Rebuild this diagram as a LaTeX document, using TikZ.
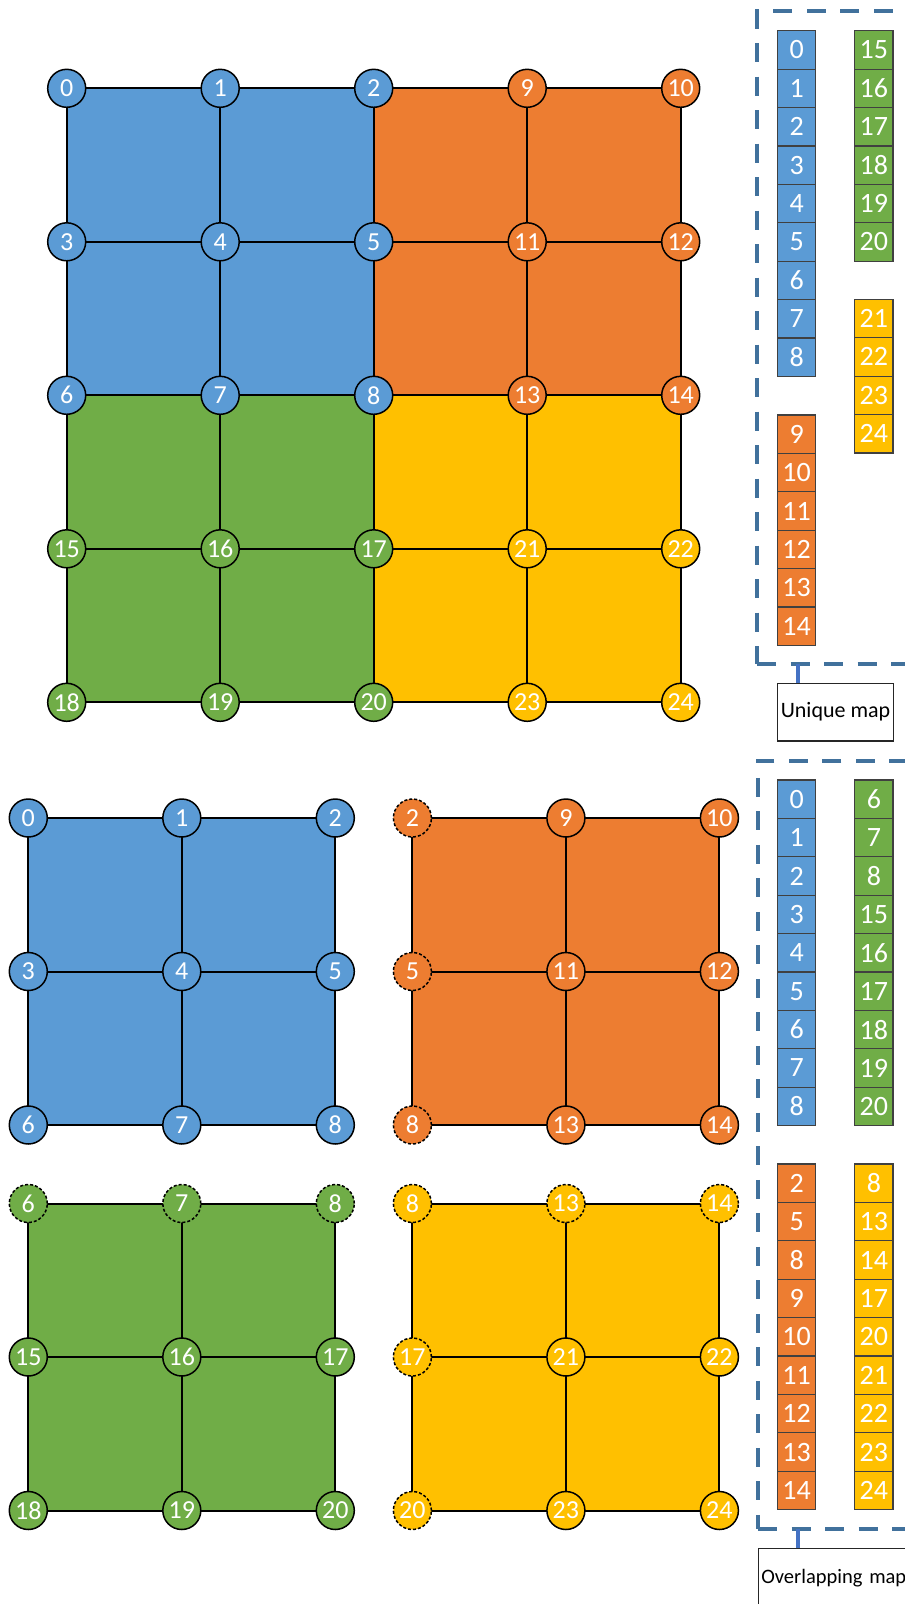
\documentclass[tikz,border=0pt]{standalone}
\usepackage{fontspec}
\setmainfont{Carlito}
\usetikzlibrary{backgrounds}
\definecolor{cblue}{HTML}{5B9BD5}
\definecolor{corange}{HTML}{ED7D31}
\definecolor{cgreen}{HTML}{70AD47}
\definecolor{cyellow}{HTML}{FFC000}
\definecolor{dboxcol}{HTML}{41719C}
\definecolor{conncol}{HTML}{4472C4}
\definecolor{cellline}{HTML}{404040}
\tikzset{
  vtx/.style={circle, draw=black, line width=1.5pt, minimum size=38pt, inner sep=0pt, outer sep=0pt, text=white, font=\fontsize{26}{26}\selectfont},
  gvtx/.style={vtx, dash pattern=on 3pt off 2pt},
  gridedge/.style={line width=2pt, black},
  cell/.style={rectangle, draw=cellline, line width=1.2pt, minimum width=38.3pt, minimum height=38.4pt, inner sep=0pt, outer sep=0pt, anchor=north west, text=white, font=\fontsize{28}{28}\selectfont},
  dbox/.style={rectangle, draw=dboxcol, line width=4pt, dash pattern=on 19pt off 14.5pt, inner sep=0pt, outer sep=0pt, anchor=north west},
  lbox/.style={rectangle, draw=black!85, line width=1.3pt, fill=white, inner sep=0pt, outer sep=0pt, anchor=north west, font=\fontsize{22}{22}\selectfont},
  conn/.style={line width=4pt, conncol}
}
\begin{document}
\begin{tikzpicture}[x=1pt,y=-1pt]
\clip (0,0) rectangle (905,1604);
% ---------- top grid ----------
\foreach \lab/\c/\r/\col in {0/0/0/cblue,1/1/0/cblue,2/2/0/cblue,9/3/0/corange,10/4/0/corange,
  3/0/1/cblue,4/1/1/cblue,5/2/1/cblue,11/3/1/corange,12/4/1/corange,
  6/0/2/cblue,7/1/2/cblue,8/2/2/cblue,13/3/2/corange,14/4/2/corange,
  15/0/3/cgreen,16/1/3/cgreen,17/2/3/cgreen,21/3/3/cyellow,22/4/3/cyellow,
  18/0/4/cgreen,19/1/4/cgreen,20/2/4/cgreen,23/3/4/cyellow,24/4/4/cyellow}
  \node[vtx, fill=\col] (t\lab) at ({66.7+153.5*\c},{88.3+153.5*\r}) {\lab};
\begin{pgfonlayer}{background}
\fill[cblue] (t0.center) rectangle (t8.center);
\fill[corange] (t2.center) rectangle (t14.center);
\fill[cgreen] (t6.center) rectangle (t20.center);
\fill[cyellow] (t8.center) rectangle (t24.center);
\foreach \a/\b in {0/1,1/2,2/9,9/10,3/4,4/5,5/11,11/12,6/7,7/8,8/13,13/14,15/16,16/17,17/21,21/22,18/19,19/20,20/23,23/24,
  0/3,3/6,6/15,15/18,1/4,4/7,7/16,16/19,2/5,5/8,8/17,17/20,9/11,11/13,13/21,21/23,10/12,12/14,14/22,22/24}
  \draw[gridedge] (t\a.center) -- (t\b.center);
\end{pgfonlayer}
% ---------- bottom grids ----------
% blue
\foreach \lab/\c/\r in {0/0/0,1/1/0,2/2/0,3/0/1,4/1/1,5/2/1,6/0/2,7/1/2,8/2/2}
  \node[vtx, fill=cblue] (bb\lab) at ({28.3+153.5*\c},{818+153.5*\r}) {\lab};
% orange
\foreach \lab/\c/\r/\st in {2/0/0/gvtx,9/1/0/vtx,10/2/0/vtx,5/0/1/gvtx,11/1/1/vtx,12/2/1/vtx,8/0/2/gvtx,13/1/2/vtx,14/2/2/vtx}
  \node[\st, fill=corange] (bo\lab) at ({412.4+153.5*\c},{818+153.5*\r}) {\lab};
% green
\foreach \lab/\c/\r/\st in {6/0/0/gvtx,7/1/0/gvtx,8/2/0/gvtx,15/0/1/vtx,16/1/1/vtx,17/2/1/vtx,18/0/2/vtx,19/1/2/vtx,20/2/2/vtx}
  \node[\st, fill=cgreen] (bg\lab) at ({28.3+153.5*\c},{1203.5+153.5*\r}) {\lab};
% yellow
\foreach \lab/\c/\r/\st in {8/0/0/gvtx,13/1/0/gvtx,14/2/0/gvtx,17/0/1/gvtx,21/1/1/vtx,22/2/1/vtx,20/0/2/gvtx,23/1/2/vtx,24/2/2/vtx}
  \node[\st, fill=cyellow] (by\lab) at ({412.4+153.5*\c},{1203.5+153.5*\r}) {\lab};
\begin{pgfonlayer}{background}
\fill[cblue] (bb0.center) rectangle (bb8.center);
\fill[corange] (bo2.center) rectangle (bo14.center);
\fill[cgreen] (bg6.center) rectangle (bg20.center);
\fill[cyellow] (by8.center) rectangle (by24.center);
\foreach \a/\b in {0/1,1/2,3/4,4/5,6/7,7/8,0/3,3/6,1/4,4/7,2/5,5/8}
  \draw[gridedge] (bb\a.center) -- (bb\b.center);
\foreach \a/\b in {2/9,9/10,5/11,11/12,8/13,13/14,2/5,5/8,9/11,11/13,10/12,12/14}
  \draw[gridedge] (bo\a.center) -- (bo\b.center);
\foreach \a/\b in {6/7,7/8,15/16,16/17,18/19,19/20,6/15,15/18,7/16,16/19,8/17,17/20}
  \draw[gridedge] (bg\a.center) -- (bg\b.center);
\foreach \a/\b in {8/13,13/14,17/21,21/22,20/23,23/24,8/17,17/20,13/21,21/23,14/22,22/24}
  \draw[gridedge] (by\a.center) -- (by\b.center);
\end{pgfonlayer}
% ---------- unique map ----------
\node[dbox, minimum width=160pt, minimum height=653pt] (ubox) at (757,11) {};
\foreach \v [count=\k from 0] in {0,1,2,3,4,5,6,7,8}
  \node[cell, fill=cblue] (ub\v) at (777.5,{30.7+38.4*\k}) {\v};
\foreach \v [count=\k from 0] in {15,16,17,18,19,20}
  \node[cell, fill=cgreen] (ug\v) at (854.7,{30.7+38.4*\k}) {\v};
\foreach \v [count=\k from 0] in {21,22,23,24}
  \node[cell, fill=cyellow] (uy\v) at (854.7,{299.3+38.4*\k}) {\v};
\foreach \v [count=\k from 0] in {9,10,11,12,13,14}
  \node[cell, fill=corange] (uo\v) at (777.5,{415+38.4*\k}) {\v};
\node[lbox, minimum width=115.6pt, minimum height=57.7pt] (ulab) at (777.7,683.3) {Unique map};
\draw[conn] ([xshift=20.6pt]ulab.north west) -- ([xshift=20.6pt]ulab.north west |- ubox.south);
% ---------- overlapping map ----------
\node[dbox, minimum width=160pt, minimum height=768.3pt] (obox) at (758,760.7) {};
\foreach \v [count=\k from 0] in {0,1,2,3,4,5,6,7,8}
  \node[cell, fill=cblue] (ob\v) at (777.5,{780+38.4*\k}) {\v};
\foreach \v [count=\k from 0] in {6,7,8,15,16,17,18,19,20}
  \node[cell, fill=cgreen] (og\v) at (854.7,{780+38.4*\k}) {\v};
\foreach \v [count=\k from 0] in {2,5,8,9,10,11,12,13,14}
  \node[cell, fill=corange] (oo\v) at (777.5,{1164+38.4*\k}) {\v};
\foreach \v [count=\k from 0] in {8,13,14,17,20,21,22,23,24}
  \node[cell, fill=cyellow] (oy\v) at (854.7,{1164+38.4*\k}) {\v};
\node[lbox, minimum width=160pt, minimum height=60pt, align=left, text width=156pt, inner xsep=3pt, font=\fontsize{20.5}{20.5}\selectfont] (olab) at (758.3,1548.3) {Overlapping map};
\draw[conn] ([xshift=40pt]olab.north west) -- ([xshift=40pt]olab.north west |- obox.south);
\end{tikzpicture}
\end{document}
